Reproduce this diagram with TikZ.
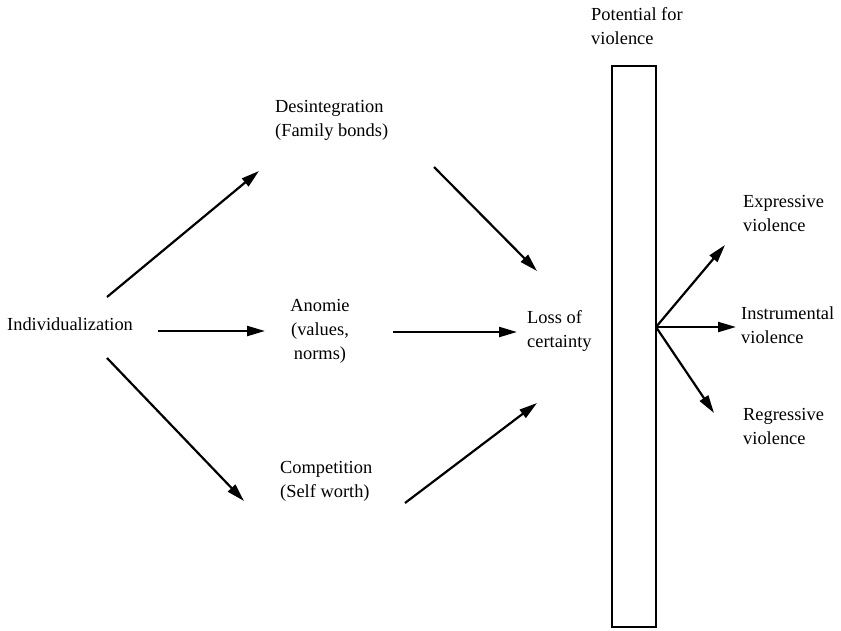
\documentclass[tikz,border=0pt]{standalone}
\usepackage{fontspec}
\setmainfont{Liberation Serif}
\usetikzlibrary{arrows.meta}
\begin{document}
\begin{tikzpicture}[x=1pt,y=1pt,
  lbl/.style={inner sep=0pt,font=\fontsize{18.4}{24}\selectfont,align=left,anchor=west},
  lblc/.style={inner sep=0pt,font=\fontsize{18.4}{24}\selectfont,align=center},
  arr/.style={line width=2.2pt,-{Triangle[length=18pt,width=10pt]}}]
\useasboundingbox (0,0) rectangle (841,-630);
% texts
\node[lbl] (ind) at (7,-324) {Individualization};
\node[lbl] (des) at (275,-120) {Desintegration\\(Family bonds)};
\node[lblc] (ano) at (320,-331) {Anomie\\(values,\\norms)};
\node[lbl] (com) at (280,-481) {Competition\\(Self worth)};
\node[lbl] (los) at (527,-331) {Loss of\\certainty};
\node[lbl] (pot) at (591,-26) {Potential for\\violence};
\node[lbl] (exp) at (743,-213) {Expressive\\violence};
\node[lbl] (ins) at (741,-325) {Instrumental\\violence};
\node[lbl] (reg) at (743,-426) {Regressive\\violence};
% box
\node[draw,line width=1.8pt,minimum width=44pt,minimum height=561pt,inner sep=0pt] (box) at (634,-346.5) {};
% arrow endpoints
\coordinate (i1) at (107,-297);
\coordinate (i2) at (158,-331);
\coordinate (i3) at (107,-358);
\coordinate (d1) at (259,-171);
\coordinate (a1) at (265,-331);
\coordinate (c1) at (244,-501);
\coordinate (d2) at (434,-167);
\coordinate (a2) at (393,-332);
\coordinate (c2) at (405,-503);
\coordinate (l1) at (537,-271);
\coordinate (l2) at (517,-332);
\coordinate (l3) at (537,-403);
\coordinate (bo) at (656,-327);
\coordinate (e1) at (725,-245);
\coordinate (n1) at (736,-327);
\coordinate (r1) at (714,-413);
% arrows
\draw[arr] (i1) -- (d1);
\draw[arr] (i2) -- (a1);
\draw[arr] (i3) -- (c1);
\draw[arr] (d2) -- (l1);
\draw[arr] (a2) -- (l2);
\draw[arr] (c2) -- (l3);
\draw[arr] (bo) -- (e1);
\draw[arr] (bo) -- (n1);
\draw[arr] (bo) -- (r1);
\end{tikzpicture}
\end{document}
